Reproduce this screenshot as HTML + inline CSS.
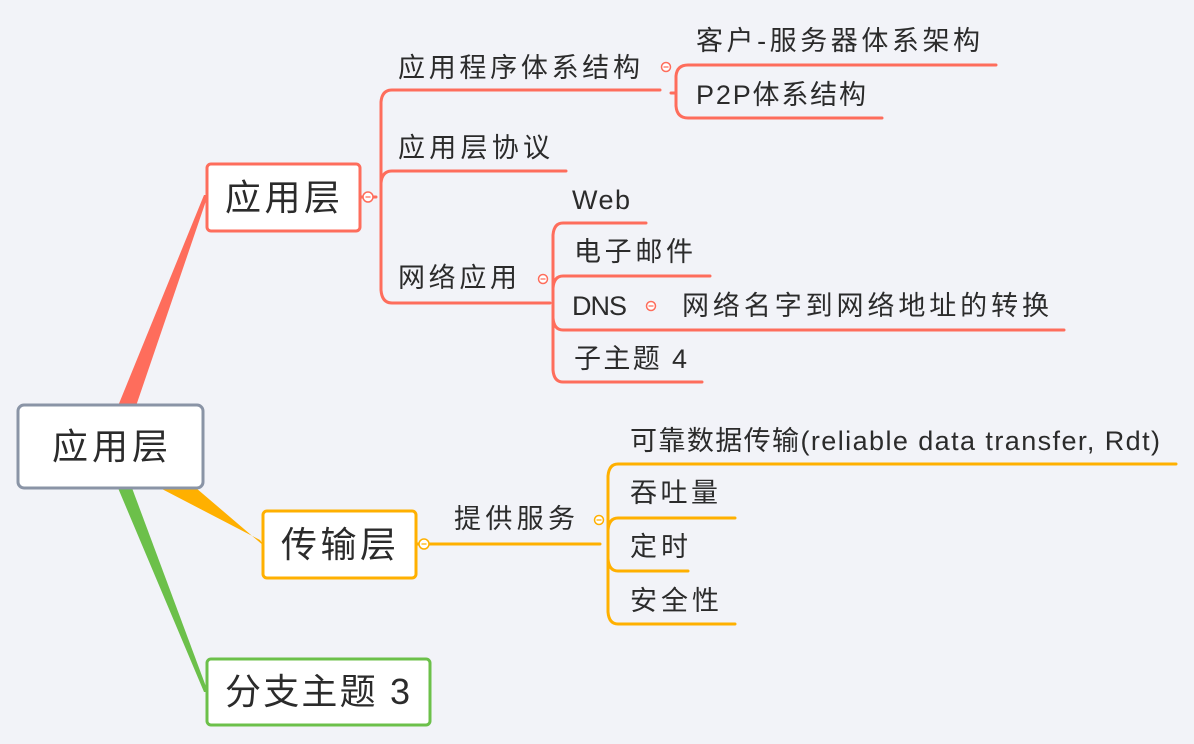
<!DOCTYPE html>
<html><head><meta charset="utf-8"><style>
html,body{margin:0;padding:0;background:#f2f3f8;}
svg{display:block}
text{font-family:"Liberation Sans","Noto Sans CJK SC",sans-serif;fill:#2b2b2b;}
</style></head><body>
<svg width="1194" height="744" viewBox="0 0 1194 744" xmlns="http://www.w3.org/2000/svg">
<rect width="1194" height="744" fill="#f2f3f8"/>
<polygon points="118,406 136,406 208,195 204,195" fill="#fe6d5c"/>
<polygon points="160,488 196,488 264,546 260,540" fill="#ffb000"/>
<polygon points="118,488 132,488 208,692 204,692" fill="#6cc04a"/>
<g fill="none" stroke-width="3" stroke-linecap="round">
<g stroke="#fe6d5c">
<path d="M361,197 H376"/>
<path d="M660,90 H392 Q382,90 381,102 V290 Q382,303 392,303 H550"/>
<path d="M566,171 H392 Q382,171 381,183"/>
<path d="M671,93 H676"/>
<path d="M996,65 H688 Q677,65 676,76 V106 Q677,118 688,118 H882"/>
<path d="M646,223 H563 Q554,223 553,235 V370 Q554,382 563,382 H702"/>
<path d="M710,276 H563 Q554,276 553,288"/>
<path d="M1064,330 H563 Q554,330 553,318"/>
</g>
<g stroke="#ffb000">
<path d="M416,544 H600"/>
<path d="M1176,464 H618 Q609,464 608,476 V612 Q609,624 618,624 H735"/>
<path d="M735,518 H618 Q609,518 608,530"/>
<path d="M688,571 H618 Q609,571 608,559"/>
</g>
</g>
<g stroke-width="1.5" fill="#fff">
<circle cx="368" cy="197" r="5" stroke="#fe6d5c"/>
<circle cx="666" cy="67" r="4.5" stroke="#fe6d5c"/>
<circle cx="543" cy="279" r="4.5" stroke="#fe6d5c"/>
<circle cx="651" cy="306" r="4.5" stroke="#fe6d5c"/>
<circle cx="424" cy="544" r="5" stroke="#ffb000"/>
<circle cx="599" cy="520" r="4.5" stroke="#ffb000"/>
</g>
<g stroke-width="1.2">
<path d="M365.5,197 h5 M663.5,67 h5 M540.5,279 h5 M648.5,306 h5" stroke="#fe6d5c"/>
<path d="M421.5,544 h5 M596.5,520 h5" stroke="#ffb000"/>
</g>
<rect x="18" y="405" width="185" height="83" rx="6" fill="#fff" stroke="#8a94a6" stroke-width="3"/>
<rect x="207" y="164" width="153" height="67" rx="4" fill="#fff" stroke="#fe6d5c" stroke-width="3"/>
<rect x="263" y="511" width="153" height="67" rx="4" fill="#fff" stroke="#ffb000" stroke-width="3"/>
<rect x="207" y="659" width="223" height="66" rx="4" fill="#fff" stroke="#6cc04a" stroke-width="3"/>
<g font-size="36" lengthAdjust="spacing">
<text x="52" y="459" textLength="116">应用层</text>
<text x="225" y="210" textLength="115">应用层</text>
<text x="281" y="557" textLength="115">传输层</text>
<text x="225" y="704" textLength="185">分支主题 3</text>
</g>
<g font-size="27">
<text x="398" y="77" textLength="242" lengthAdjust="spacing">应用程序体系结构</text>
<text x="398" y="157" textLength="152" lengthAdjust="spacing">应用层协议</text>
<text x="398" y="287" textLength="119" lengthAdjust="spacing">网络应用</text>
<text x="696" y="50" textLength="284" lengthAdjust="spacing">客户-服务器体系架构</text>
<text x="696" y="104" textLength="170" lengthAdjust="spacing">P2P体系结构</text>
<text x="572" y="209" textLength="58" lengthAdjust="spacing">Web</text>
<text x="574" y="261" textLength="119" lengthAdjust="spacing">电子邮件</text>
<text x="572" y="315" textLength="55" lengthAdjust="spacing">DNS</text>
<text x="682" y="315" textLength="367" lengthAdjust="spacing">网络名字到网络地址的转换</text>
<text x="574" y="368" textLength="113" lengthAdjust="spacing">子主题 4</text>
<text x="454" y="528" textLength="121" lengthAdjust="spacing">提供服务</text>
<text x="630" y="450" textLength="530" lengthAdjust="spacing">可靠数据传输(reliable data transfer, Rdt)</text>
<text x="630" y="502" textLength="88" lengthAdjust="spacing">吞吐量</text>
<text x="630" y="556" textLength="58" lengthAdjust="spacing">定时</text>
<text x="630" y="610" textLength="89" lengthAdjust="spacing">安全性</text>
</g>
</svg>
</body></html>
